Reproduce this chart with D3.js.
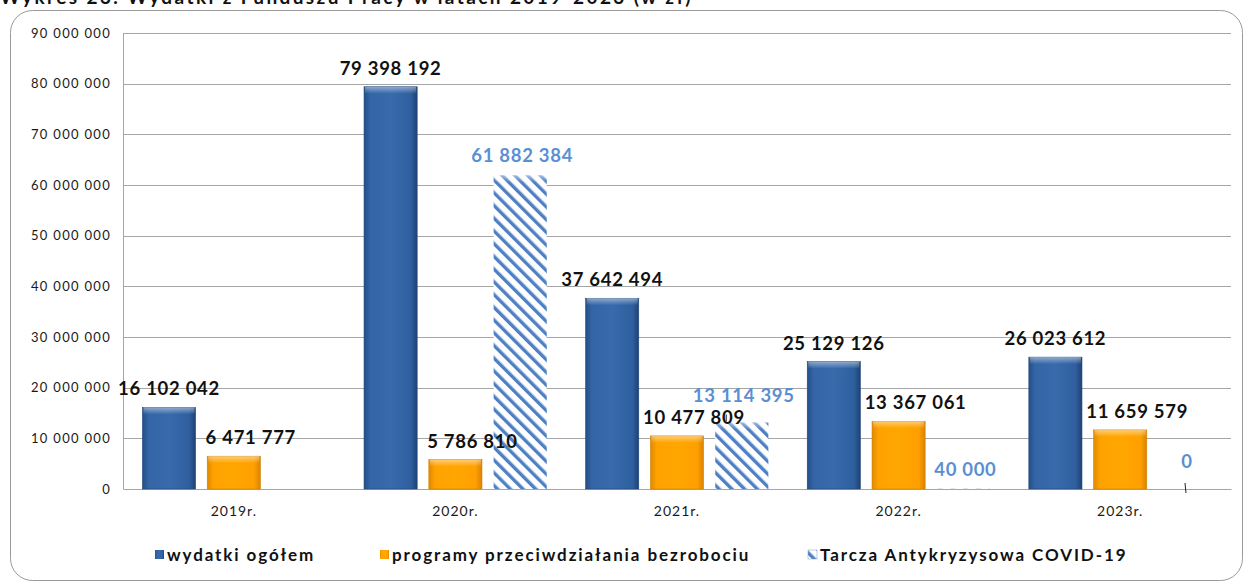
<!DOCTYPE html>
<html>
<head>
<meta charset="utf-8">
<script src="https://cdn.jsdelivr.net/npm/d3@7.9.0/dist/d3.min.js"></script>
<style>
  html, body { margin: 0; padding: 0; background: #fff; }
  svg { display: block; font-family: Lato, "Open Sans", sans-serif; }
</style>
</head>
<body>
<div id="chart"></div>
<script>
// data
const years = ["2019r.", "2020r.", "2021r.", "2022r.", "2023r."];
const seriesNames = ["wydatki ogółem", "programy przeciwdziałania bezrobociu", "Tarcza Antykryzysowa COVID-19"];
const wydatki = [16102042, 79398192, 37642494, 25129126, 26023612];
const programy = [6471777, 5786810, 10477809, 13367061, 11659579];
const tarcza = [null, 61882384, 13114395, 40000, 0];
const yTicks = [0, 10000000, 20000000, 30000000, 40000000, 50000000, 60000000, 70000000, 80000000, 90000000];

const W = 1246, H = 586;
const margin = { top: 33, right: 15, bottom: 97, left: 123 };
const width = W - margin.left - margin.right,
      height = H - margin.top - margin.bottom;

const fmt = v => d3.format(",")(v).replace(/,/g, " ");

const svgRoot = d3.select("#chart").append("svg")
  .attr("width", W).attr("height", H);

const defs = svgRoot.append("defs");

// bar gradients (bevelled look)
function hGrad(id, stops) {
  const g = defs.append("linearGradient").attr("id", id)
    .attr("x1", "0%").attr("x2", "100%").attr("y1", "0%").attr("y2", "0%");
  stops.forEach(([o, c]) => g.append("stop").attr("offset", o).attr("stop-color", c));
}
hGrad("gBlue", [["0%", "#234f88"], ["12%", "#3465a6"], ["50%", "#386aac"], ["88%", "#2f5f9e"], ["100%", "#1d4275"]]);
hGrad("gOrange", [["0%", "#e08a00"], ["12%", "#ffa200"], ["50%", "#ffa600"], ["88%", "#ffa000"], ["100%", "#d98300"]]);

const topGrad = defs.append("linearGradient").attr("id", "gTop")
  .attr("x1", "0%").attr("x2", "0%").attr("y1", "0%").attr("y2", "100%");
topGrad.append("stop").attr("offset", "0%").attr("stop-color", "#fff").attr("stop-opacity", 0.45);
topGrad.append("stop").attr("offset", "100%").attr("stop-color", "#fff").attr("stop-opacity", 0);

// hatch for Tarcza ("\" direction)
const pat = defs.append("pattern").attr("id", "hatch")
  .attr("patternUnits", "userSpaceOnUse")
  .attr("width", 9).attr("height", 9)
  .attr("patternTransform", "rotate(-45)");
pat.append("rect").attr("width", 9).attr("height", 9).attr("fill", "#fff");
pat.append("rect").attr("x", 0).attr("width", 3.4).attr("height", 9).attr("fill", "#4f80c4");

// outer rounded frame
svgRoot.append("rect")
  .attr("x", 10.5).attr("y", 10.5)
  .attr("width", 1232).attr("height", 570)
  .attr("rx", 22)
  .attr("fill", "#fff")
  .attr("stroke", "#9a9a9a")
  .attr("stroke-width", 1);

// clipped title at the top
svgRoot.append("text")
  .attr("x", 0).attr("y", 4)
  .style("font-family", "Lato, sans-serif")
  .style("font-weight", "bold")
  .style("font-size", "19px")
  .style("letter-spacing", "2.4px")
  .attr("fill", "#111")
  .text("Wykres 23. Wydatki z Funduszu Pracy w latach 2019-2023 (w zł)");

const svg = svgRoot.append("g")
  .attr("transform", `translate(${margin.left},${margin.top})`);

const x = d3.scaleBand().domain(years).range([0, width]).padding(0);
const x1 = d3.scaleBand().domain([0, 1, 2]).range([0, x.bandwidth()])
  .paddingInner(0.18).paddingOuter(0.3);
const y = d3.scaleLinear().domain([0, 90000000]).range([height, 0]);

// grid
svg.append("g")
  .selectAll("line")
  .data(yTicks.slice(1))
  .join("line")
    .attr("x1", 0).attr("x2", width)
    .attr("y1", d => Math.round(y(d)) + 0.5).attr("y2", d => Math.round(y(d)) + 0.5)
    .attr("stroke", "#a6a6a6");

// y axis
const yAxis = svg.append("g")
  .call(d3.axisLeft(y).tickValues(yTicks).tickSize(0).tickPadding(12).tickFormat(fmt));
yAxis.select(".domain").attr("stroke", "#a6a6a6");
yAxis.selectAll("text")
  .style("font-family", "Lato, sans-serif")
  .style("font-size", "13px")
  .style("letter-spacing", "1.3px")
  .attr("fill", "#1a1a1a");

// x axis
const xAxis = svg.append("g")
  .attr("transform", `translate(0,${height})`)
  .call(d3.axisBottom(x).tickSize(0).tickPadding(17));
xAxis.select(".domain").attr("stroke", "#a6a6a6");
xAxis.selectAll("text")
  .style("font-family", "Lato, sans-serif")
  .style("font-size", "14px")
  .style("letter-spacing", "1px")
  .attr("fill", "#1a1a1a");

const rows = years.map((yr, i) => ({ yr, vals: [wydatki[i], programy[i], tarcza[i]] }));

const groups = svg.selectAll(".yr")
  .data(rows)
  .join("g")
    .attr("class", "yr")
    .attr("transform", d => `translate(${x(d.yr)},0)`);

const items = groups.selectAll("g.bar")
  .data(d => d.vals.map((v, s) => ({ v, s })).filter(d => d.v !== null))
  .join("g").attr("class", "bar");

const fills = ["url(#gBlue)", "url(#gOrange)", "url(#hatch)"];

items.append("rect")
  .attr("x", d => x1(d.s))
  .attr("y", d => y(d.v))
  .attr("width", x1.bandwidth())
  .attr("height", d => height - y(d.v))
  .attr("fill", d => fills[d.s])
  .attr("stroke", d => d.s === 2 ? "none" : (d.s === 0 ? "#1f4678" : "#d08000"))
  .attr("stroke-width", 0.6);

// top bevel highlight
items.filter(d => d.v > 1000000)
  .append("rect")
  .attr("x", d => x1(d.s) + 1)
  .attr("y", d => y(d.v))
  .attr("width", x1.bandwidth() - 2)
  .attr("height", d => Math.min(7, height - y(d.v)))
  .attr("fill", "url(#gTop)");

// value labels, drawn above all bars
const labelDx = [0, 17, 2];
const labelLayer = svg.append("g");
const labelData = rows.flatMap(r => r.vals.map((v, s) => ({ yr: r.yr, v, s })).filter(d => d.v !== null));

// Tarcza labels for small bars were nudged up in the original
const labelLift = d => {
  if (d.s !== 2) return 12;
  if (d.v === 0) return 21;
  if (d.v < 20000000 && d.v > 1000000) return 21;
  return 13;
};

// small leader lines for the moved Tarcza labels
labelLayer.selectAll("line")
  .data(labelData.filter(d => d.s === 2 && d.v < 20000000 && d.v !== 40000))
  .join("line")
    .attr("x1", d => x(d.yr) + x1(d.s) + (d.v === 0 ? x1.bandwidth() / 2 : 11))
    .attr("x2", d => x(d.yr) + x1(d.s) + (d.v === 0 ? x1.bandwidth() / 2 + 1 : 11))
    .attr("y1", d => d.v === 0 ? height - 6 : y(d.v) - 8)
    .attr("y2", d => d.v === 0 ? height + 4 : y(d.v) - 1)
    .attr("stroke", "#222").attr("stroke-width", 1);

labelLayer.selectAll("text")
  .data(labelData)
  .join("text")
    .attr("x", d => x(d.yr) + x1(d.s) + x1.bandwidth() / 2 + labelDx[d.s])
    .attr("y", d => y(d.v) - labelLift(d))
    .attr("text-anchor", "middle")
    .style("font-family", "Lato, sans-serif")
    .style("font-weight", "bold")
    .style("font-size", "18.5px")
    .style("letter-spacing", "0.7px")
    .attr("fill", d => d.s === 2 ? "#5b8fd3" : "#111")
    .text(d => fmt(d.v));

// legend
const legendX = [155, 380, 808];
const legend = svgRoot.append("g").attr("transform", "translate(0,555)");
const li = legend.selectAll("g")
  .data(seriesNames)
  .join("g")
    .attr("transform", (d, i) => `translate(${legendX[i]},0)`);
li.append("rect")
  .attr("x", 0).attr("y", -5)
  .attr("width", 9).attr("height", 9)
  .attr("fill", (d, i) => fills[i])
  .attr("stroke", (d, i) => i === 2 ? "#7a9ccc" : "none")
  .attr("stroke-width", 0.5);
li.append("text")
  .attr("x", 12).attr("y", 6)
  .style("font-family", "Lato, sans-serif")
  .style("font-weight", "bold")
  .style("font-size", "17px")
  .style("letter-spacing", "1.9px")
  .attr("fill", "#111")
  .text(d => d);
</script>
</body>
</html>
